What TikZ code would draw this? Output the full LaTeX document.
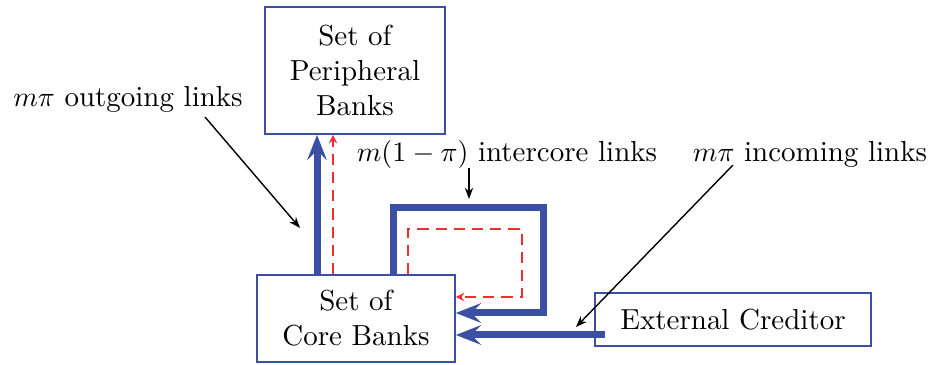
\documentclass[tikz,border=0pt]{standalone}
\usetikzlibrary{arrows.meta,calc}
\definecolor{bankblue}{RGB}{59,79,163}
\definecolor{linkred}{RGB}{238,48,48}
\begin{document}
\begin{tikzpicture}[x=0.35714pt,y=-0.35714pt,
  font=\fontsize{10.35pt}{12.5pt}\selectfont,
  bank/.style={draw=bankblue,line width=0.6pt,align=center,inner sep=0pt},
  thicklink/.style={draw=bankblue,line width=2.5pt,-{Stealth[length=9pt,width=7pt,inset=3.5pt]}},
  redlink/.style={draw=linkred,line width=0.7pt,dash pattern=on 4pt off 2.5pt,-{Stealth[length=3pt,width=3pt]}},
  pointer/.style={draw=black,line width=0.5pt,-{Stealth[length=4pt,width=3pt]}},
  lbl/.style={anchor=base,inner sep=0pt}]
\useasboundingbox (0,0) rectangle (930,365);
\node[bank,minimum width=64.3pt,minimum height=45.4pt] (peri) at (355,70.5) {Set of\\Peripheral\\Banks};
\node[bank,minimum width=70.7pt,minimum height=31pt] (core) at (356,318.5) {Set of\\Core Banks};
\node[bank,minimum width=98.6pt,minimum height=18.9pt] (ext) at (733,319.5) {External Creditor};
\node[lbl] (outl) at (128,107) {$m\pi$ outgoing links};
\node[lbl] (interl) at (507,162) {$m(1-\pi)$ intercore links};
\node[lbl] (inl) at (810,162) {$m\pi$ incoming links};
\coordinate (upx) at (317,0);
\coordinate (redx) at (333,0);
\coordinate (lt) at (393,208);
\coordinate (rb) at (543,313);
\coordinate (rlt) at (408,229);
\coordinate (rrb) at (522,297);
\coordinate (extout) at (605,335);
\coordinate (o1) at (205,117);
\coordinate (o2) at (300,228);
\coordinate (i1) at (469,168);
\coordinate (i2) at (469,199);
\coordinate (n1) at (733,165);
\coordinate (n2) at (576,327);
\draw[thicklink] (core.north -| upx) -- (peri.south -| upx);
\draw[redlink] (core.north -| redx) -- (peri.south -| redx);
\draw[thicklink] (core.north -| lt) -- (lt) -| (rb) -- (core.east |- rb);
\draw[redlink] (core.north -| rlt) -- (rlt) -| (rrb) -- (core.east |- rrb);
\draw[thicklink] (extout) -- (core.east |- extout);
\draw[pointer] (o1) -- (o2);
\draw[pointer] (i1) -- (i2);
\draw[pointer] (n1) -- (n2);
\end{tikzpicture}
\end{document}
